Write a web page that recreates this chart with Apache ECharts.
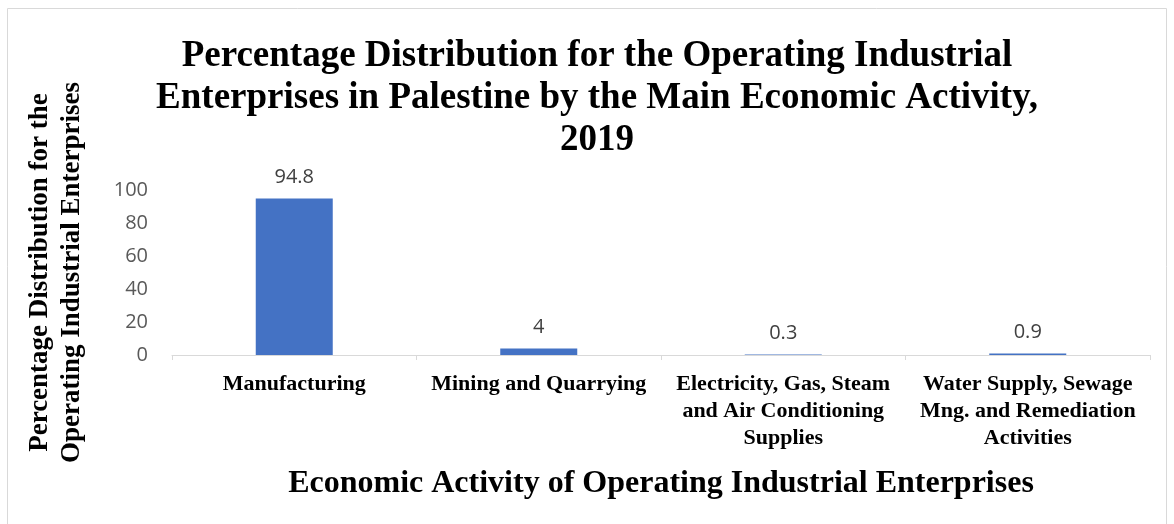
<!DOCTYPE html>
<html><head><meta charset="utf-8">
<script src="https://cdn.jsdelivr.net/npm/echarts@6/dist/echarts.min.js"></script>
<style>html,body{margin:0;padding:0;background:#fff}#c{width:1174px;height:524px}</style>
</head><body><div id="c"></div>
<script>
const categories = ["Manufacturing", "Mining and Quarrying", "Electricity, Gas, Steam\nand Air Conditioning\nSupplies", "Water Supply, Sewage\nMng. and Remediation\nActivities"];
const values = [94.8, 4, 0.3, 0.9];
const yTicks = [0, 20, 40, 60, 80, 100];
const titleText = "Percentage Distribution for the Operating Industrial\nEnterprises in Palestine by the Main Economic Activity,\n2019";
const yName = "Percentage Distribution for the\nOperating Industrial Enterprises";
const xName = "Economic Activity of Operating Industrial Enterprises";

const chart = echarts.init(document.getElementById('c'));
chart.setOption({
  animation: false,
  graphic: [{type:'rect', shape:{x:7.5,y:8.5,width:1159,height:530}, style:{fill:'none', stroke:'#d9d9d9', lineWidth:1}}],
  title: {text: titleText, left: 592, top: 30, textAlign:'center',
    textStyle:{fontFamily:'Liberation Serif', fontWeight:'bold', fontSize:37, lineHeight:42, color:'#000'}},
  grid: {left: 172, right: 24, top: 190, bottom: 169, outerBoundsMode: 'none', containLabel: false},
  xAxis: {type:'category', data: categories,
    axisLine:{lineStyle:{color:'#d9d9d9'}}, axisTick:{show:true, lineStyle:{color:'#d9d9d9'}, length:5},
    axisLabel:{interval:0, fontFamily:'Liberation Serif', fontWeight:'bold', fontSize:22, lineHeight:27, color:'#000', margin:16},
    name: xName, nameLocation:'middle', nameGap:113,
    nameTextStyle:{fontFamily:'Liberation Serif', fontWeight:'bold', fontSize:32, color:'#000'}},
  yAxis: {type:'value', min: yTicks[0], max: yTicks[yTicks.length-1], interval: 20,
    axisLine:{show:false}, axisTick:{show:false}, splitLine:{show:false},
    axisLabel:{fontFamily:'Open Sans', fontSize:20, color:'#595959', margin:24},
    name: yName, nameLocation:'middle', nameGap:84, nameRotate:90,
    nameTextStyle:{fontFamily:'Liberation Serif', fontWeight:'bold', fontSize:27, lineHeight:32, color:'#000'}},
  series: [{type:'bar', data: values, barWidth: 77,
    itemStyle:{color:'#4472c4'},
    label:{show:true, position:'top', distance:11, fontFamily:'Open Sans', fontSize:20, color:'#404040'}}]
});
</script></body></html>
